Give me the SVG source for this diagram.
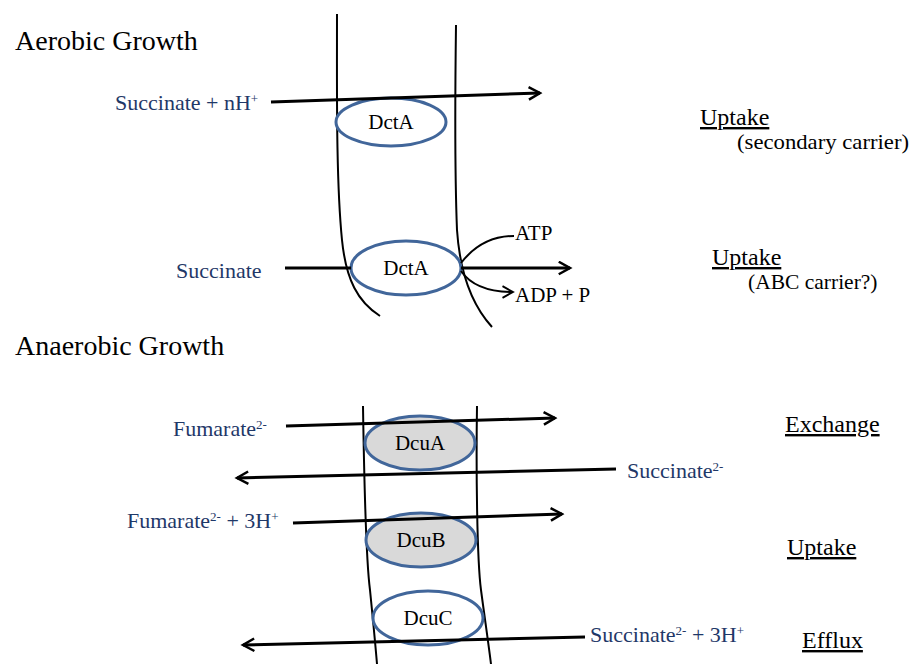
<svg xmlns="http://www.w3.org/2000/svg" width="915" height="664" viewBox="0 0 915 664" font-family="'Liberation Serif', 'DejaVu Serif', serif">
<defs>
<style>
.title{font-size:28px;fill:#000;}
.mol{font-size:22px;fill:#1f3868;}
.lab{font-size:24px;fill:#000;text-decoration:underline;}
.sub{font-size:21.5px;fill:#000;}
.prot{font-size:21px;fill:#000;text-anchor:middle;}
.mem{fill:none;stroke:#000;stroke-width:2;}
.arr{fill:none;stroke:#000;stroke-width:3;marker-end:url(#ah);}
.thin{fill:none;stroke:#000;stroke-width:2;}
.ell{fill:#fff;stroke:#41669a;stroke-width:3;}
.ellg{fill:#d9d9d9;stroke:#41669a;stroke-width:3;}
</style>
<marker id="ah" viewBox="0 0 12 12" refX="10" refY="6" markerWidth="5" markerHeight="5" orient="auto" markerUnits="strokeWidth">
<path d="M1,1 L10,6 L1,11" fill="none" stroke="#000" stroke-width="2"/>
</marker>
<marker id="ah2" viewBox="0 0 12 12" refX="10" refY="6" markerWidth="7" markerHeight="7" orient="auto" markerUnits="strokeWidth">
<path d="M1,1 L10,6 L1,11" fill="none" stroke="#000" stroke-width="1.6"/>
</marker>
</defs>
<rect width="915" height="664" fill="#fff"/>

<text class="title" x="15" y="50">Aerobic Growth</text>
<text class="title" x="15" y="355">Anaerobic Growth</text>

<g id="membrane-aerobic">
<path class="mem" d="M337,14 C337,90 336,180 342,240 C346,280 358,302 380,316"/>
<path class="mem" d="M456,25 C455,100 455,180 457,230 C460,275 472,305 492,327"/>
</g>
<g id="membrane-anaerobic">
<path class="mem" d="M363,406 C364,470 366,560 370,590 C373,620 375,640 377,664"/>
<path class="mem" d="M477,406 C476,470 477,560 481,590 C485,620 488,640 491,664"/>
</g>

<g id="dcta1"><ellipse class="ell" cx="391" cy="122" rx="55" ry="24"/><text class="prot" x="391" y="129">DctA</text></g>
<g id="dcta2"><ellipse class="ell" cx="406" cy="268" rx="55" ry="27"/><text class="prot" x="406" y="275">DctA</text></g>
<g id="dcua"><ellipse class="ellg" cx="420" cy="443" rx="55" ry="27"/><text class="prot" x="420" y="450">DcuA</text></g>
<g id="dcub"><ellipse class="ellg" cx="421" cy="540" rx="55" ry="27"/><text class="prot" x="421" y="547">DcuB</text></g>
<g id="dcuc"><ellipse class="ell" cx="428" cy="618" rx="55" ry="27"/><text class="prot" x="428" y="625">DcuC</text></g>

<g id="connectors">
<path class="arr" d="M271,102 L540,93"/>
<path class="thin" style="stroke-width:3" d="M285,268 L351,268"/>
<path class="arr" d="M461,268 L570,268"/>
<path class="thin" d="M461,263 C475,245 492,236 514,236"/>
<path class="thin" style="marker-end:url(#ah2)" d="M461,271 C472,287 490,292 513,292"/>
<path class="arr" d="M286,426 L555,418"/>
<path class="arr" d="M616,469 L237,478"/>
<path class="arr" d="M293,523 L562,514"/>
<path class="arr" d="M585,637 L243,645"/>
</g>

<g id="labels">
<text class="mol" x="115" y="110">Succinate + nH<tspan font-size="13" dy="-7">+</tspan></text>
<text class="mol" x="176" y="278">Succinate</text>
<text x="515" y="240" font-size="21">ATP</text>
<text x="515" y="302" font-size="21">ADP + P</text>
<text class="lab" x="700" y="125">Uptake </text>
<text class="sub" x="737" y="149" textLength="172" lengthAdjust="spacingAndGlyphs">(secondary carrier)</text>
<text class="lab" x="712" y="265">Uptake </text>
<text class="sub" x="748" y="289">(ABC carrier?)</text>

<text class="mol" x="173" y="436">Fumarate<tspan font-size="13" dy="-7">2-</tspan></text>
<text class="mol" x="627" y="478">Succinate<tspan font-size="13" dy="-7">2-</tspan></text>
<text class="mol" x="127" y="528">Fumarate<tspan font-size="13" dy="-7">2-</tspan><tspan dy="7"> + 3H</tspan><tspan font-size="13" dy="-7">+</tspan></text>
<text class="mol" x="590" y="642">Succinate<tspan font-size="13" dy="-7">2-</tspan><tspan dy="7"> + 3H</tspan><tspan font-size="13" dy="-7">+</tspan></text>
<text class="lab" x="785" y="432">Exchange </text>
<text class="lab" x="787" y="555">Uptake </text>
<text class="lab" x="802" y="648">Efflux</text>
</g>
</svg>
